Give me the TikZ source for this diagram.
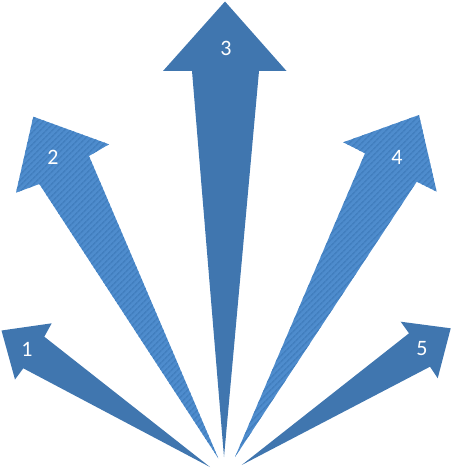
\documentclass[tikz,border=0pt]{standalone}
\usepackage{fontspec}
\setmainfont{Carlito}
\usetikzlibrary{patterns.meta}
\definecolor{arrdark}{RGB}{64,118,175}
\definecolor{arrlight}{RGB}{78,140,205}
\definecolor{arrstripe}{RGB}{66,127,191}
\tikzset{
  solidarrow/.style={fill=arrdark, draw=none},
  lightarrow/.style={fill=arrlight, draw=none},
  stripes/.style={pattern={Lines[angle=45,distance=4pt,line width=1.7pt]}, pattern color=arrstripe},
  lbl/.style={text=white, font=\fontsize{22}{24}\selectfont, inner sep=0pt}
}
\begin{document}
\begin{tikzpicture}[x=1pt,y=-1pt]
\useasboundingbox (0,0) rectangle (452,470);
% arrow 1
\fill[solidarrow] (210,467) -- (23.3,368.3) -- (15,379.5) -- (1.5,330.5) -- (51.7,323.3) -- (44.3,336.7) -- cycle;
% arrow 2
\def\arrowtwo{(218.3,458.3) -- (39.3,184) -- (16,192.7) -- (33.3,116.7) -- (109,144.3) -- (89,156) -- cycle}
\fill[lightarrow] \arrowtwo;
\path[stripes] \arrowtwo;
% arrow 3
\fill[solidarrow] (224,457) -- (192,71) -- (163,71) -- (225,1.5) -- (286.5,71) -- (259,71) -- cycle;
% arrow 4
\def\arrowfour{(235,457) -- (365,153.3) -- (343.3,142.3) -- (419,115) -- (436.7,191.7) -- (416.7,181.7) -- cycle}
\fill[lightarrow] \arrowfour;
\path[stripes] \arrowfour;
% arrow 5
\fill[solidarrow] (241.7,465) -- (409,333.3) -- (400.7,321.7) -- (450.7,328.3) -- (437.7,378.3) -- (430,366.7) -- cycle;
% labels
\node[lbl] (l1) at (27,349) {1};
\node[lbl] (l2) at (53,157) {2};
\node[lbl] (l3) at (226,48) {3};
\node[lbl] (l4) at (397,157) {4};
\node[lbl] (l5) at (422,349) {5};
\end{tikzpicture}
\end{document}
